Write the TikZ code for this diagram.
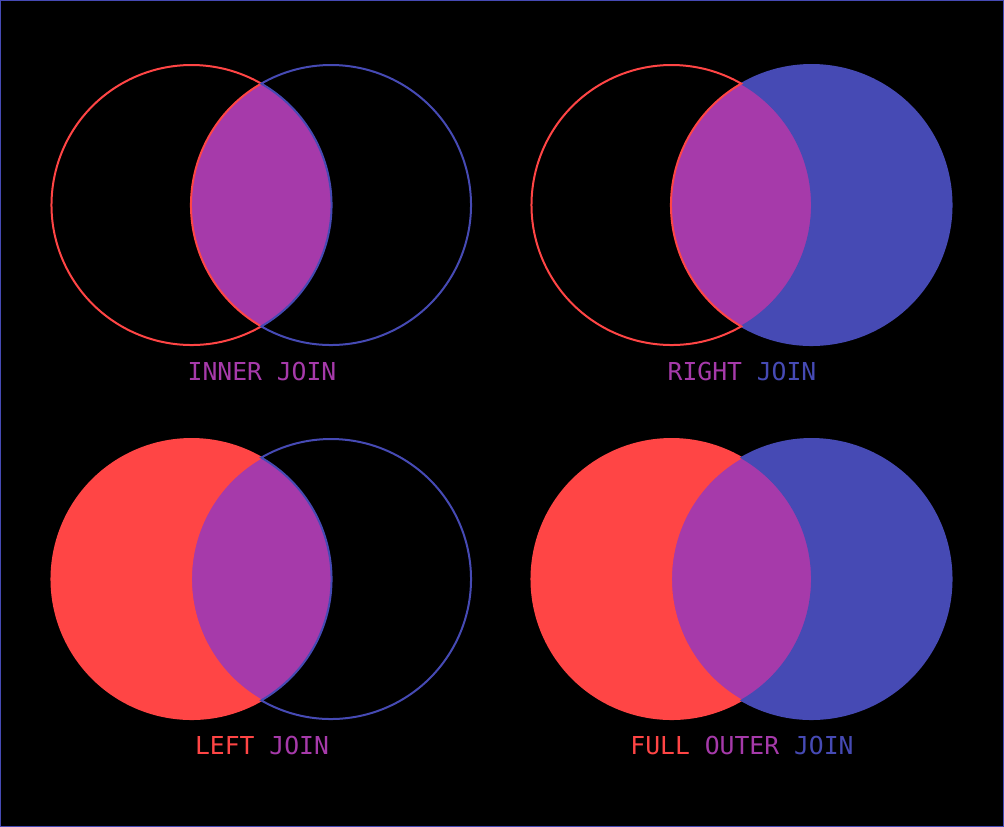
\documentclass[tikz,border=0pt]{standalone}
\usepackage{fontspec}
\setmonofont{DejaVu Sans Mono}
\definecolor{jred}{RGB}{255,69,69}
\definecolor{jblue}{RGB}{70,74,180}
\definecolor{jpurple}{RGB}{166,58,170}
\tikzset{
  ring/.style={line width=2pt},
  lbl/.style={font=\ttfamily\fontsize{24.7}{24.7}\selectfont, inner sep=0pt, anchor=center},
}
% #1 left center, #2 right center (centre distance 139.5, radius 140)
\newcommand{\leftcres}[2]{(#1)+(60.12:140) arc[start angle=60.12,end angle=299.88,radius=140] arc[start angle=240.12,end angle=119.88,radius=140] -- cycle}
\newcommand{\rightcres}[2]{(#2)+(119.88:140) arc[start angle=119.88,end angle=-119.88,radius=140] arc[start angle=-60.12,end angle=60.12,radius=140] -- cycle}
\newcommand{\lens}[2]{\begin{scope}\clip (#1) circle (140); \fill[jpurple] (#2) circle (140);\end{scope}}
\begin{document}
\begin{tikzpicture}[x=1pt,y=-1pt]
\useasboundingbox (0,0) rectangle (1004,827);
\fill[black] (0,0) rectangle (1004,827);
\draw[jblue,line width=1.2pt] (0.6,0.6) rectangle (1003.4,826.4);
% centers
\coordinate (a1) at (191.5,205); \coordinate (b1) at (331,205);
\coordinate (a2) at (671.5,205); \coordinate (b2) at (811.5,205);
\coordinate (a3) at (191.5,579); \coordinate (b3) at (331,579);
\coordinate (a4) at (671.5,579); \coordinate (b4) at (811.5,579);
% INNER JOIN
\lens{a1}{b1}
\draw[ring,jred] \leftcres{a1}{b1};
\draw[ring,jblue] \rightcres{a1}{b1};
% RIGHT JOIN
\lens{a2}{b2}
\filldraw[ring,jblue] \rightcres{a2}{b2};
\draw[ring,jred] \leftcres{a2}{b2};
% LEFT JOIN
\lens{a3}{b3}
\filldraw[ring,jred] \leftcres{a3}{b3};
\draw[ring,jblue] \rightcres{a3}{b3};
% FULL OUTER JOIN
\lens{a4}{b4}
\filldraw[ring,jred] \leftcres{a4}{b4};
\filldraw[ring,jblue] \rightcres{a4}{b4};
% labels
\node[lbl] (l1) at (262,372) {\textcolor{jpurple}{INNER JOIN}};
\node[lbl] (l2) at (742,372) {\textcolor{jpurple}{RIGHT} \textcolor{jblue}{JOIN}};
\node[lbl] (l3) at (262,746) {\textcolor{jred}{LEFT} \textcolor{jpurple}{JOIN}};
\node[lbl] (l4) at (742,746) {\textcolor{jred}{FULL} \textcolor{jpurple}{OUTER} \textcolor{jblue}{JOIN}};
\end{tikzpicture}
\end{document}
